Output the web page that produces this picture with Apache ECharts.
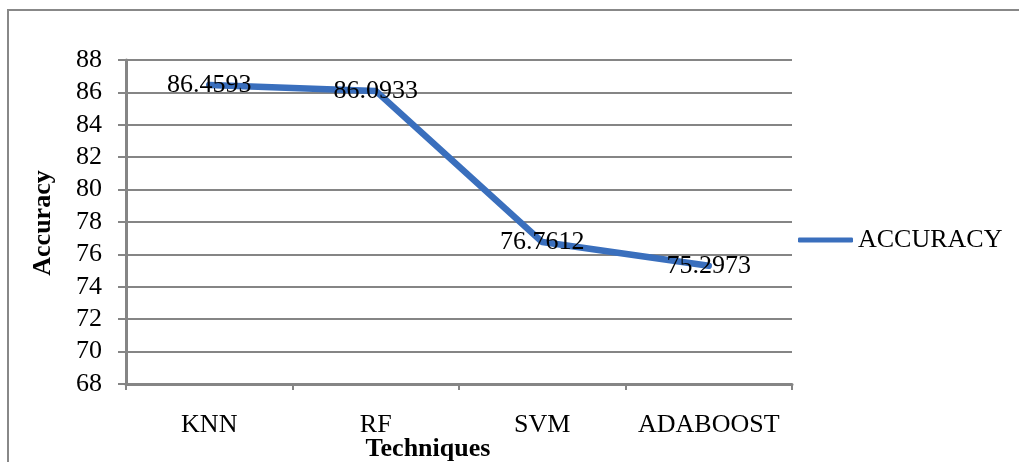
<!DOCTYPE html>
<html>
<head>
<meta charset="utf-8">
<script src="https://cdn.jsdelivr.net/npm/echarts@6/dist/echarts.min.js"></script>
<style>
  html, body { margin: 0; padding: 0; background: #fff; }
  #chart { width: 1019px; height: 462px; }
</style>
</head>
<body>
<div id="chart"></div>
<script>
// Classifier accuracy by technique
const techniques = ['KNN', 'RF', 'SVM', 'ADABOOST'];
const accuracy = [86.4593, 86.0933, 76.7612, 75.2973];
const seriesName = 'ACCURACY';
const yTitle = 'Accuracy';
const xTitle = 'Techniques';

const serif = '"Liberation Serif", "Times New Roman", serif';
const gridColor = '#858585';
const lineColor = '#3a6fbd';
const fontSize = 26;

const chart = echarts.init(document.getElementById('chart'), null, { renderer: 'canvas' });

chart.setOption({
  animation: false,
  backgroundColor: '#ffffff',
  grid: { left: 126, top: 60, right: 227, bottom: 78, containLabel: false },
  legend: {
    left: 798,
    top: 227,
    padding: 0,
    orient: 'vertical',
    icon: 'roundRect',
    itemWidth: 55,
    itemHeight: 5,
    itemGap: 6,
    textStyle: { fontFamily: serif, fontSize: fontSize, color: '#000' },
    data: [seriesName]
  },
  xAxis: {
    type: 'category',
    data: techniques,
    boundaryGap: true,
    axisLine: { lineStyle: { color: gridColor, width: 3 } },
    axisTick: { show: true, alignWithLabel: false, length: 6, lineStyle: { color: gridColor, width: 2 } },
    axisLabel: { interval: 0, fontFamily: serif, fontSize: fontSize, color: '#000', margin: 28 },
    splitLine: { show: false }
  },
  yAxis: {
    type: 'value',
    min: 68,
    max: 88,
    interval: 2,
    axisLine: { show: true, lineStyle: { color: gridColor, width: 3 } },
    axisTick: { show: true, length: 8, lineStyle: { color: gridColor, width: 2 } },
    axisLabel: { fontFamily: serif, fontSize: fontSize, color: '#000', margin: 24 },
    splitLine: { show: true, lineStyle: { color: gridColor, width: 2 } }
  },
  graphic: [
    {
      type: 'rect',
      shape: { x: 8, y: 10, width: 1040, height: 500 },
      style: { fill: 'none', stroke: '#888888', lineWidth: 2 },
      silent: true,
      z: -1
    },
    {
      type: 'text',
      x: 43,
      y: 223,
      rotation: Math.PI / 2,
      style: {
        text: yTitle,
        fontFamily: serif,
        fontSize: fontSize,
        fontWeight: 'bold',
        fill: '#000',
        align: 'center',
        verticalAlign: 'middle'
      }
    },
    {
      type: 'text',
      x: 428,
      y: 449,
      style: {
        text: xTitle,
        fontFamily: serif,
        fontSize: fontSize,
        fontWeight: 'bold',
        fill: '#000',
        align: 'center',
        verticalAlign: 'middle'
      }
    }
  ],
  series: [
    {
      name: seriesName,
      type: 'line',
      data: accuracy,
      symbol: 'circle',
      symbolSize: 0.1,
      showSymbol: true,
      lineStyle: { color: lineColor, width: 6.5, cap: 'round', join: 'round' },
      itemStyle: { color: lineColor },
      label: {
        show: true,
        position: 'inside',
        fontFamily: serif,
        fontSize: fontSize,
        color: '#000',
        formatter: p => String(p.value)
      },
      z: 3
    }
  ]
});
</script>
</body>
</html>
